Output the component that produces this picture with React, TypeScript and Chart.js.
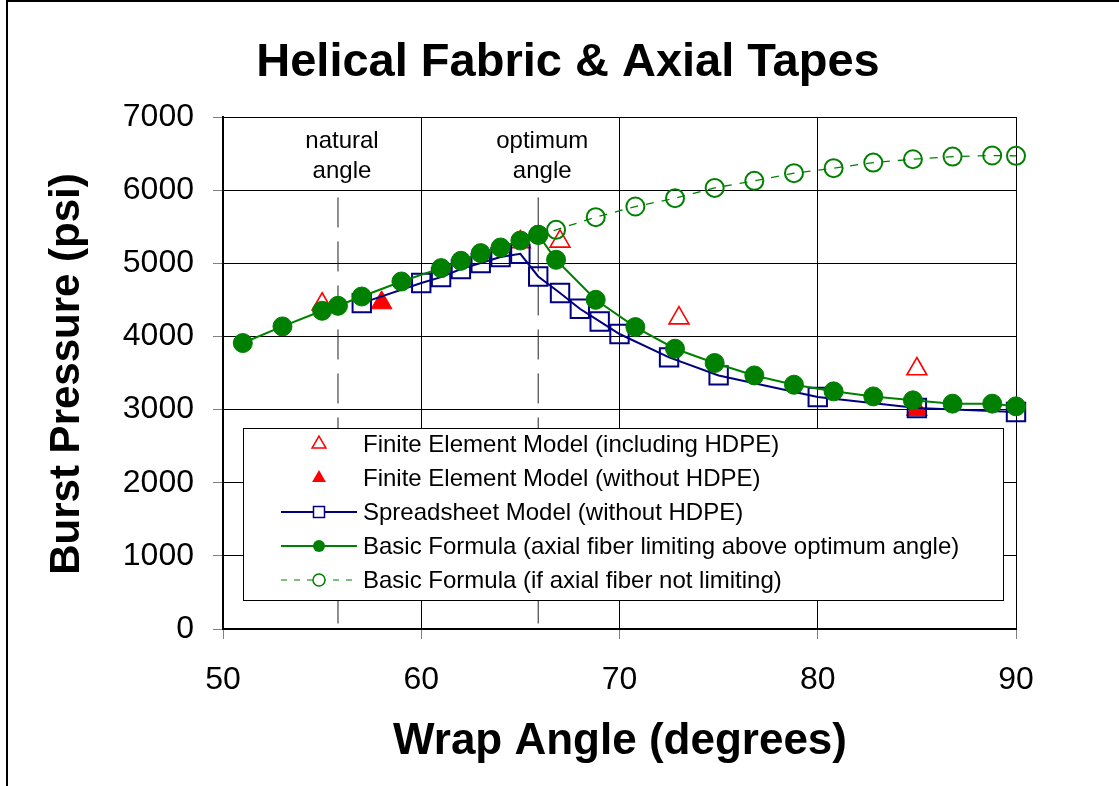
import React, { useEffect, useRef } from 'react';
import { Chart, registerables } from 'chart.js';

Chart.register(...registerables);

const FONT = "'Liberation Sans', Arial, Helvetica, sans-serif";

const TITLE = 'Helical Fabric & Axial Tapes';
const X_TITLE = 'Wrap Angle (degrees)';
const Y_TITLE = 'Burst Pressure (psi)';

const X_MIN = 50;
const X_MAX = 90;
const X_STEP = 10;
const Y_MIN = 0;
const Y_MAX = 7000;
const Y_STEP = 1000;

// Finite Element Model (including HDPE)
const FEM_HDPE_X = [55, 65, 67, 73, 85];
const FEM_HDPE_Y = [4440, 5290, 5300, 4250, 3555];

// Finite Element Model (without HDPE)
const FEM_NO_HDPE_X = [58, 85];
const FEM_NO_HDPE_Y = [4460, 3000];

// Spreadsheet Model (without HDPE)
const SHEET_X = [57, 60, 61, 62, 63, 64, 65, 65.9, 67, 68, 69, 70, 72.5, 75, 80, 85, 90];
const SHEET_Y = [4456, 4730, 4811, 4921, 5003, 5085, 5130, 4820, 4593, 4378, 4205, 4033, 3713, 3467, 3172, 3022, 2967];

// Basic Formula (axial fiber limiting above optimum angle)
const BASIC_X = [51, 53, 55, 55.8, 57, 59, 61, 62, 63, 64, 65, 65.9, 66.8, 68.8, 70.8, 72.8, 74.8, 76.8, 78.8, 80.8, 82.8, 84.8, 86.8, 88.8, 90];
const BASIC_Y = [3910, 4137, 4351, 4419, 4546, 4751, 4934, 5034, 5139, 5216, 5311, 5389, 5048, 4501, 4128, 3832, 3637, 3467, 3340, 3249, 3180, 3126, 3081, 3081, 3044];

// Basic Formula (if axial fiber not limiting)
const FREE_X = [65.9, 66.8, 68.8, 70.8, 72.8, 74.8, 76.8, 78.8, 80.8, 82.8, 84.8, 86.8, 88.8, 90];
const FREE_Y = [5389, 5457, 5631, 5776, 5890, 6031, 6127, 6232, 6301, 6377, 6423, 6459, 6473, 6469];

// Reference angles (dashed vertical lines)
const REF_ANGLES = [55.8, 65.9];
const REF_TOP = 5900;
const REF_LABELS = [['natural', 'angle'], ['optimum', 'angle']];

const LEGEND_LABELS = [
  'Finite Element Model (including HDPE)',
  'Finite Element Model (without HDPE)',
  'Spreadsheet Model (without HDPE)',
  'Basic Formula (axial fiber limiting above optimum angle)',
  'Basic Formula (if axial fiber not limiting)',
];

const RED = '#FF0000';
const NAVY = '#000080';
const GREEN = '#008000';

const pts = (xs: number[], ys: number[]) => xs.map((x, i) => ({ x, y: ys[i] }));

function drawMarker(ctx: CanvasRenderingContext2D, kind: string, x: number, y: number) {
  ctx.save();
  ctx.beginPath();
  if (kind === 'triOpen' || kind === 'triFill') {
    const r = 8;
    ctx.moveTo(x, y - r);
    ctx.lineTo(x + r * Math.sin((2 * Math.PI) / 3), y - r * Math.cos((2 * Math.PI) / 3));
    ctx.lineTo(x + r * Math.sin((4 * Math.PI) / 3), y - r * Math.cos((4 * Math.PI) / 3));
    ctx.closePath();
    if (kind === 'triFill') {
      ctx.fillStyle = RED;
      ctx.fill();
    } else {
      ctx.strokeStyle = RED;
      ctx.lineWidth = 1.5;
      ctx.stroke();
    }
  } else if (kind === 'square') {
    ctx.fillStyle = '#fff';
    ctx.rect(x - 5.5, y - 5.5, 11, 11);
    ctx.fill();
    ctx.strokeStyle = NAVY;
    ctx.lineWidth = 1.5;
    ctx.stroke();
  } else if (kind === 'dot') {
    ctx.arc(x, y, 6, 0, Math.PI * 2);
    ctx.fillStyle = GREEN;
    ctx.fill();
  } else if (kind === 'ring') {
    ctx.arc(x, y, 6, 0, Math.PI * 2);
    ctx.fillStyle = '#fff';
    ctx.fill();
    ctx.strokeStyle = GREEN;
    ctx.lineWidth = 1.5;
    ctx.stroke();
  }
  ctx.restore();
}

const decorPlugin = {
  id: 'decor',
  beforeDraw(chart: any) {
    const ctx: CanvasRenderingContext2D = chart.ctx;
    ctx.save();
    ctx.fillStyle = '#fff';
    ctx.fillRect(0, 0, chart.width, chart.height);
    ctx.fillStyle = '#000';
    ctx.fillRect(6, 0, 2, chart.height);
    ctx.fillRect(6, 0, chart.width - 6, 2);
    ctx.restore();
  },
  afterDraw(chart: any) {
    const ctx: CanvasRenderingContext2D = chart.ctx;
    const xs = chart.scales.x;
    ctx.save();
    ctx.fillStyle = '#000';
    ctx.textAlign = 'center';
    ctx.textBaseline = 'middle';

    ctx.font = `bold 47px ${FONT}`;
    ctx.fillText(TITLE, 568, 63);

    ctx.font = `bold 44px ${FONT}`;
    ctx.fillText(X_TITLE, 620, 742);

    ctx.save();
    ctx.translate(67, 374);
    ctx.rotate(-Math.PI / 2);
    ctx.font = `bold 42px ${FONT}`;
    ctx.fillText(Y_TITLE, 0, 0);
    ctx.restore();

    ctx.font = `24px ${FONT}`;
    REF_ANGLES.forEach((a, i) => {
      const px = xs.getPixelForValue(a);
      ctx.fillText(REF_LABELS[i][0], px + 4, 141);
      ctx.fillText(REF_LABELS[i][1], px + 4, 171);
    });

    // legend box
    const L = 243, T = 428, R = 1003, B = 600;
    ctx.fillStyle = '#fff';
    ctx.fillRect(L, T, R - L, B - T);
    ctx.strokeStyle = '#000';
    ctx.lineWidth = 1;
    ctx.strokeRect(L + 0.5, T + 0.5, R - L, B - T);

    const kinds = ['triOpen', 'triFill', 'square', 'dot', 'ring'];
    const lines = [null, null, { c: NAVY, w: 2, d: [] }, { c: GREEN, w: 2, d: [] }, { c: GREEN, w: 1.2, d: [6, 7] }];
    LEGEND_LABELS.forEach((label, i) => {
      const y = 444 + i * 34;
      const ln: any = lines[i];
      if (ln) {
        ctx.save();
        ctx.strokeStyle = ln.c;
        ctx.lineWidth = ln.w;
        ctx.setLineDash(ln.d);
        ctx.beginPath();
        ctx.moveTo(281, y);
        ctx.lineTo(357, y);
        ctx.stroke();
        ctx.restore();
      }
      drawMarker(ctx, kinds[i], 319, y);
      ctx.fillStyle = '#000';
      ctx.textAlign = 'left';
      ctx.font = `24px ${FONT}`;
      ctx.fillText(label, 363, y + 1);
    });
    ctx.restore();
  },
};

export default function App() {
  const ref = useRef<HTMLCanvasElement | null>(null);

  useEffect(() => {
    if (!ref.current) return;
    const refSets = REF_ANGLES.map((a, i) => ({
      label: 'ref' + i,
      data: [{ x: a, y: REF_TOP }, { x: a, y: Y_MIN }],
      showLine: true,
      borderColor: '#222',
      borderWidth: 1,
      borderDash: [30, 14],
      pointRadius: 0,
      order: 6,
    }));
    const chart = new Chart(ref.current, {
      type: 'scatter',
      data: {
        datasets: [
          {
            label: LEGEND_LABELS[0],
            data: pts(FEM_HDPE_X, FEM_HDPE_Y),
            showLine: false,
            pointStyle: 'triangle',
            pointRadius: 11.5,
            pointBorderWidth: 1.6,
            pointBorderColor: RED,
            pointBackgroundColor: 'rgba(0,0,0,0)',
            order: 5,
          },
          {
            label: LEGEND_LABELS[1],
            data: pts(FEM_NO_HDPE_X, FEM_NO_HDPE_Y),
            showLine: false,
            pointStyle: 'triangle',
            pointRadius: 12,
            pointBorderWidth: 1,
            pointBorderColor: RED,
            pointBackgroundColor: RED,
            order: 4,
          },
          {
            label: LEGEND_LABELS[2],
            data: pts(SHEET_X, SHEET_Y),
            showLine: true,
            borderColor: NAVY,
            borderWidth: 2,
            pointStyle: 'rect',
            pointRadius: 13,
            pointBorderWidth: 2,
            pointBorderColor: NAVY,
            pointBackgroundColor: 'rgba(0,0,0,0)',
            order: 3,
          },
          {
            label: LEGEND_LABELS[3],
            data: pts(BASIC_X, BASIC_Y),
            showLine: true,
            borderColor: GREEN,
            borderWidth: 2,
            pointStyle: 'circle',
            pointRadius: 9.5,
            pointBorderWidth: 1,
            pointBorderColor: GREEN,
            pointBackgroundColor: GREEN,
            order: 1,
          },
          {
            label: LEGEND_LABELS[4],
            data: pts(FREE_X, FREE_Y),
            showLine: true,
            borderColor: GREEN,
            borderWidth: 1.3,
            borderDash: [8, 8],
            pointStyle: 'circle',
            pointRadius: 9,
            pointBorderWidth: 2,
            pointBorderColor: GREEN,
            pointBackgroundColor: 'rgba(0,0,0,0)',
            order: 2,
          },
          ...refSets,
        ] as any,
      },
      options: {
        animation: false,
        responsive: false,
        devicePixelRatio: 1,
        clip: false as any,
        layout: { padding: { left: 0, top: 117, right: 103, bottom: 0 } },
        plugins: {
          legend: { display: false },
          tooltip: { enabled: false },
          title: { display: false },
        },
        elements: { line: { tension: 0 } },
        scales: {
          x: {
            type: 'linear',
            min: X_MIN,
            max: X_MAX,
            afterFit: (s: any) => { s.height = 157; },
            ticks: {
              stepSize: X_STEP,
              color: '#000',
              font: { family: FONT, size: 32 },
              padding: 22,
              maxRotation: 0,
              callback: (v: any) => String(v),
            },
            grid: { color: '#000', lineWidth: 1, tickLength: 10, tickColor: '#808080', tickWidth: 1 },
            border: { color: '#000', width: 2 },
          },
          y: {
            type: 'linear',
            min: Y_MIN,
            max: Y_MAX,
            afterFit: (s: any) => { s.width = 223; },
            ticks: {
              stepSize: Y_STEP,
              color: '#000',
              font: { family: FONT, size: 32 },
              padding: 19,
              callback: (v: any) => String(v),
            },
            grid: { color: '#000', lineWidth: 1, tickLength: 10, tickColor: '#808080', tickWidth: 1 },
            border: { color: '#000', width: 2 },
          },
        },
      },
      plugins: [decorPlugin],
    });
    return () => chart.destroy();
  }, []);

  return (
    <div style={{ position: 'fixed', left: 0, top: 0, width: 1119, height: 786, background: '#fff' }}>
      <canvas ref={ref} width={1119} height={786} style={{ display: 'block', width: 1119, height: 786 }} />
    </div>
  );
}
